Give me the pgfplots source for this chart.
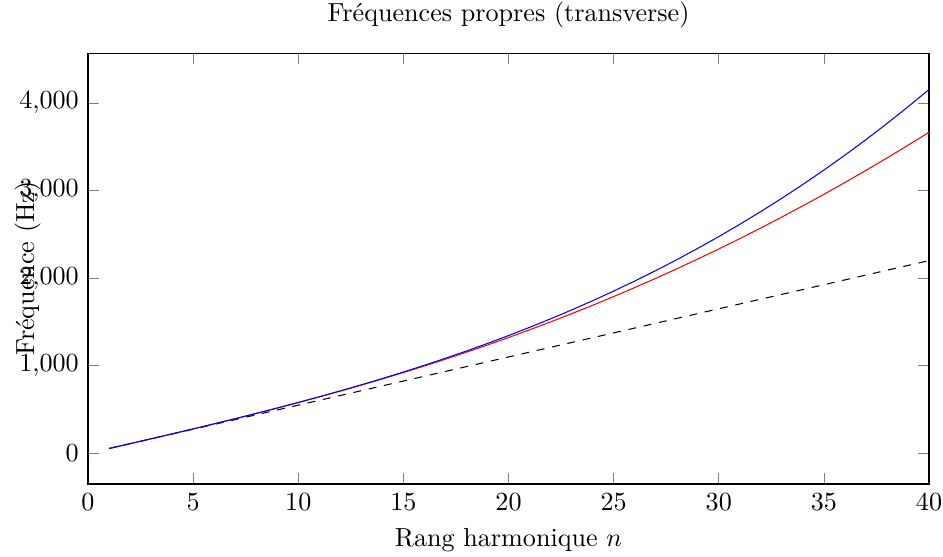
\documentclass[border=0pt]{standalone}
\usepackage{pgfplots}
\pgfplotsset{compat=1.18}
\usepackage{pgfplotstable}
\pgfplotstableread{
n lin red blue
1 55 55.03 55.03
2 110 110.24 110.24
3 165 165.82 165.82
4 220 221.95 221.95
5 275 278.79 278.82
6 330 336.53 336.59
7 385 395.33 395.47
8 440 455.36 455.63
9 495 516.77 517.25
10 550 579.72 580.53
11 605 644.35 645.63
12 660 710.79 712.75
13 715 779.18 782.06
14 770 849.64 853.76
15 825 922.29 928.02
16 880 997.22 1005.03
17 935 1074.55 1084.97
18 990 1154.38 1168.02
19 1045 1236.77 1254.37
20 1100 1321.83 1344.20
21 1155 1409.63 1437.69
22 1210 1500.22 1535.03
23 1265 1593.69 1636.40
24 1320 1690.10 1741.98
25 1375 1789.48 1851.95
26 1430 1891.91 1966.51
27 1485 1997.42 2085.82
28 1540 2106.05 2210.08
29 1595 2217.86 2339.47
30 1650 2332.87 2474.18
31 1705 2451.12 2614.37
32 1760 2572.64 2760.24
33 1815 2697.45 2911.98
34 1870 2825.59 3069.75
35 1925 2957.08 3233.76
36 1980 3091.95 3404.17
37 2035 3230.20 3581.18
38 2090 3371.86 3764.97
39 2145 3516.96 3955.71
40 2200 3665.49 4153.60
}\datatable
\begin{document}
\begin{tikzpicture}
\begin{axis}[
  scale only axis,
  width=322pt, height=165pt,
  xmin=0, xmax=40,
  ymin=-350, ymax=4570,
  xtick={0,5,...,40},
  ytick={0,1000,2000,3000,4000},
  title={Fréquences propres (transverse)},
  xlabel={Rang harmonique $n$},
  ylabel={Fréquence (Hz)},
  ylabel style={at={(axis description cs:-0.0715,0.5)},anchor=center},
]
\addplot[black, dashed] table[x=n, y=lin] {\datatable};
\addplot[red] table[x=n, y=red] {\datatable};
\addplot[blue] table[x=n, y=blue] {\datatable};
\end{axis}
\pgfresetboundingbox
\path[use as bounding box] ([xshift=-33.7pt,yshift=-27.95pt]current axis.south west) rectangle ([xshift=5.36pt,yshift=20.3pt]current axis.north east);
\end{tikzpicture}
\end{document}
